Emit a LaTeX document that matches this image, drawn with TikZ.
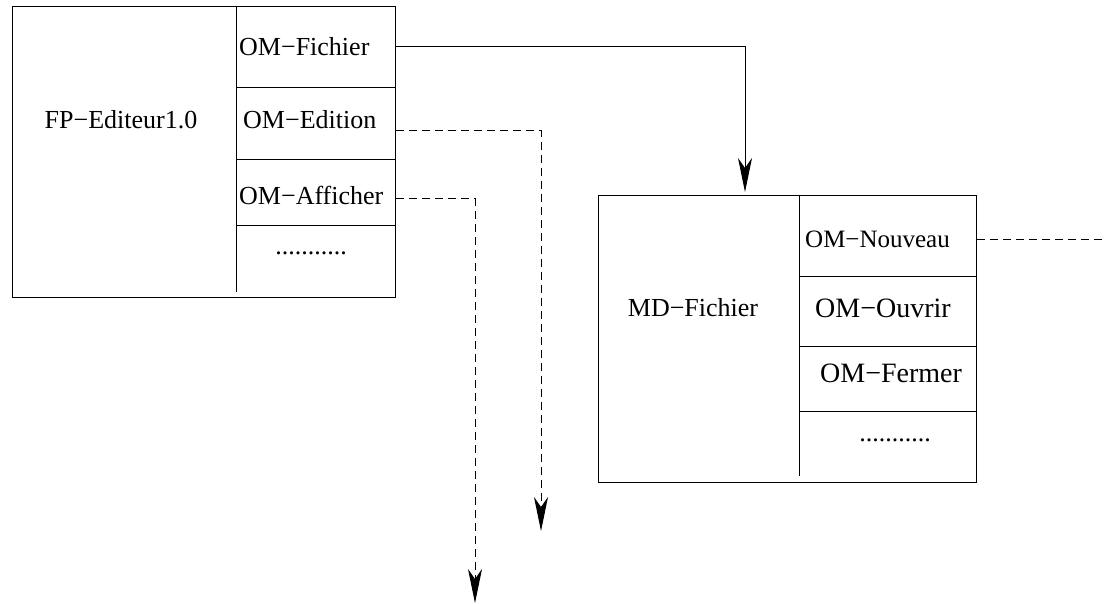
\documentclass[tikz,border=0pt]{standalone}
\usepackage{fontspec}
\setmainfont{Liberation Serif}
\usetikzlibrary{arrows.meta}

\tikzset{
    box/.style={draw, line width=1pt, rectangle, anchor=north west, inner sep=0},
    lbl/.style={inner sep=0, font=\fontsize{26}{30}\selectfont},
    big/.style={inner sep=0, font=\fontsize{28}{32}\selectfont},
    small/.style={inner sep=0, font=\fontsize{25}{29}\selectfont},
    sep/.style={line width=1pt},
    link/.style={line width=1pt, -{Stealth[length=34pt, width=14pt, inset=10pt]}},
    dlink/.style={link, dash pattern=on 8pt off 5pt},
}

\begin{document}
\begin{tikzpicture}[x=1pt, y=-1pt]
    \useasboundingbox (0, 0) rectangle (1106, 604);

    % FP-Editeur1.0
    \node[box, minimum width=383pt, minimum height=291pt] at (12, 6)(fp){};
    \draw[sep] (236, 6) -- (236, 292);
    \draw[sep] (236, 88) -- (395, 88);
    \draw[sep] (236, 160) -- (395, 160);
    \draw[sep] (236, 226) -- (395, 226);
    \node[lbl] at (121, 120)(fpname){FP−Editeur1.0};
    \node[lbl, anchor=west] at (239, 47)(omfichier){OM−Fichier};
    \node[lbl, anchor=west] at (243, 120)(omedition){OM−Edition};
    \node[lbl, anchor=west] at (239, 195)(omafficher){OM−Afficher};
    \node[lbl] at (311, 253)(fpdots){...........};

    % MD-Fichier
    \node[box, minimum width=378pt, minimum height=287pt] at (598, 195)(md){};
    \draw[sep] (799, 195) -- (799, 476);
    \draw[sep] (799, 276) -- (976, 276);
    \draw[sep] (799, 346) -- (976, 346);
    \draw[sep] (799, 411) -- (976, 411);
    \node[lbl] at (693, 308)(mdname){MD−Fichier};
    \node[small, anchor=west] at (805, 239)(omnouveau){OM−Nouveau};
    \node[big, anchor=west] at (815, 308)(omouvrir){OM−Ouvrir};
    \node[big, anchor=west] at (820, 373)(omfermer){OM−Fermer};
    \node[lbl] at (895, 440)(mddots){...........};

    % liens
    \coordinate (fichierout) at (fp.east |- 0, 47);
    \coordinate (editionout) at (fp.east |- 0, 131);
    \coordinate (afficherout) at (fp.east |- 0, 199);
    \coordinate (nouveauout) at (md.east |- 0, 240);
    \coordinate (mdin) at (745, 192);
    \coordinate (editionend) at (541, 531);
    \coordinate (afficherend) at (475, 603);
    \coordinate (nouveauend) at (1106, 240);

    \draw[link] (fichierout) -| (mdin);
    \draw[dlink] (editionout) -| (editionend);
    \draw[dlink] (afficherout) -| (afficherend);
    \draw[sep, dash pattern=on 8pt off 5pt] (nouveauout) -- (nouveauend);
\end{tikzpicture}
\end{document}
